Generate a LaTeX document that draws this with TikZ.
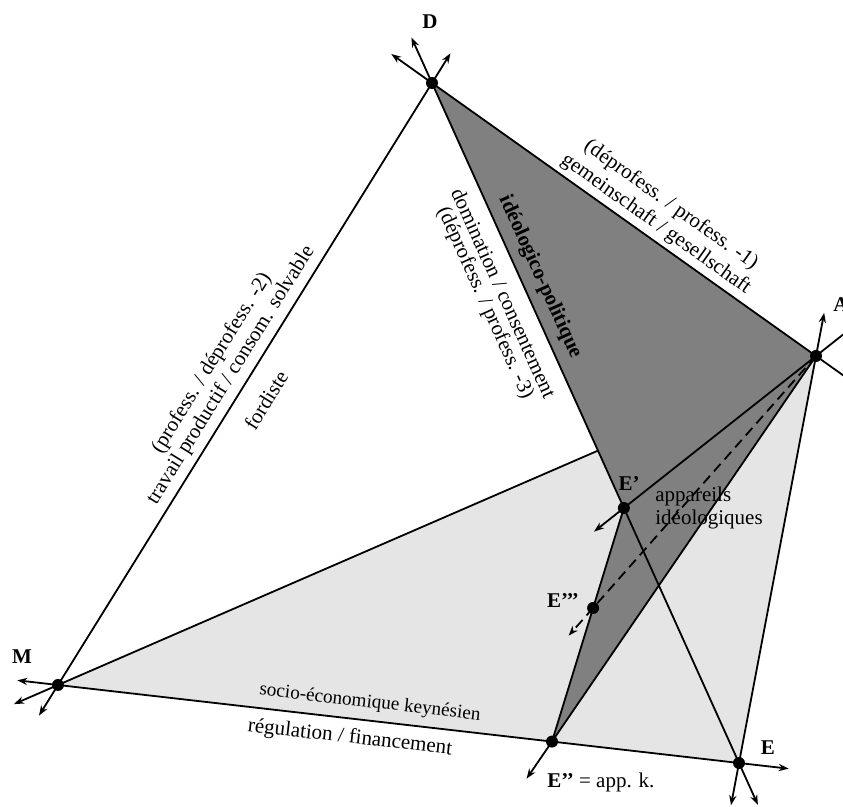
\documentclass[tikz,border=0pt]{standalone}
\usepackage{fontspec}
\setmainfont{Liberation Serif}
\usetikzlibrary{calc,arrows.meta}
\begin{document}
\begin{tikzpicture}[x=0.5pt,y=-0.5pt,
  edge/.style={line width=0.9pt},
  arr/.style={line width=0.9pt,-{Stealth[length=5pt,width=3.6pt]}},
  dasharr/.style={line width=0.9pt,dash pattern=on 5pt off 3pt,-{Stealth[length=5pt,width=3.6pt]}},
  dashline/.style={line width=0.9pt,dash pattern=on 5pt off 3pt},
  dot/.style={circle,fill=black,inner sep=0pt,minimum size=6pt},
  lbl/.style={font=\fontsize{10.5}{12}\selectfont, inner sep=0pt},
  vlbl/.style={font=\fontsize{10.5}{12}\selectfont\bfseries, inner sep=0pt},
  lightfill/.style={fill=black!10},
  darkfill/.style={fill=black!50}]
\useasboundingbox (0,0) rectangle (843,807);
\clip (0,0) rectangle (843,807);
% vertices
\coordinate (D) at (432,83);
\coordinate (A) at (816,356);
\coordinate (M) at (58,685);
\coordinate (E) at (739,763);
\coordinate (E2) at ($(M)!0.7254!(E)$);
\coordinate (E1) at ($(D)!0.625!(E)$);
\coordinate (E3) at ($(E2)!0.572!(E1)$);
% regions
\fill[lightfill] (M) -- (A) -- (E) -- cycle;
\draw[edge] (M) -- (A);
\fill[darkfill] (D) -- (A) -- (E2) -- (E1) -- cycle;
% edges
\draw[edge] (M) -- (D);
\draw[edge] (D) -- (A);
\draw[edge] (D) -- (E);
\draw[edge] (A) -- (E);
\draw[edge] (M) -- (E);
\draw[edge] (A) -- (E1);
\draw[edge] (A) -- (E2);
\draw[edge] (E2) -- (E1);
\draw[dashline] (A) -- (E3);
% arrow tips
\coordinate (tD1) at ($(D)!-25pt!(E)$);
\coordinate (tD2) at ($(D)!-25pt!(A)$);
\coordinate (tD3) at ($(D)!-17.5pt!(M)$);
\coordinate (tA1) at ($(A)!-22pt!(E)$);
\coordinate (tA2) at ($(A)!-40pt!(D)$);
\coordinate (tA3) at ($(A)!-40pt!(E1)$);
\coordinate (tM1) at ($(M)!-20.5pt!(E)$);
\coordinate (tM2) at ($(M)!-24pt!(A)$);
\coordinate (tM3) at ($(M)!-18pt!(D)$);
\coordinate (tE1) at ($(E)!-25pt!(M)$);
\coordinate (tE2) at ($(E)!-21.5pt!(A)$);
\coordinate (tE3) at ($(E)!-23pt!(D)$);
\coordinate (tF1) at ($(E2)!-22.5pt!(A)$);
\coordinate (tG1) at ($(E1)!-19pt!(A)$);
\coordinate (tH1) at ($(E3)!-18.5pt!(A)$);
\draw[arr] (D) -- (tD1);
\draw[arr] (D) -- (tD2);
\draw[arr] (D) -- (tD3);
\draw[arr] (A) -- (tA1);
\draw[edge] (A) -- (tA2);
\draw[edge] (A) -- (tA3);
\draw[arr] (M) -- (tM1);
\draw[arr] (M) -- (tM2);
\draw[arr] (M) -- (tM3);
\draw[arr] (E) -- (tE1);
\draw[arr] (E) -- (tE2);
\draw[arr] (E) -- (tE3);
\draw[arr] (E2) -- (tF1);
\draw[arr] (E1) -- (tG1);
\draw[dasharr] (E3) -- (tH1);
% dots
\node[dot] (nD) at (D) {};
\node[dot] (nA) at (A) {};
\node[dot] (nM) at (M) {};
\node[dot] (nE) at (E) {};
\node[dot] (nE1) at (E1) {};
\node[dot] (nE2) at (E2) {};
\node[dot] (nE3) at (E3) {};
% vertex labels
\node[vlbl] (lD) at (430,22) {D};
\node[vlbl] (lA) at (841,305) {A};
\node[vlbl] (lM) at (22,657) {M};
\node[vlbl] (lE) at (768,748) {E};
\node[vlbl] (lE1) at (629,484) {E’};
\node[vlbl] (lE3) at (563,601) {E’’’};
\node[lbl,anchor=base west] (lE2) at (547,788) {\textbf{E’’} = app. k.};
\node[lbl,anchor=base west] (app1) at (655,502) {appareils};
\node[lbl,anchor=base west] (app2) at (655,525) {idéologiques};
% M-D labels
\node[lbl,rotate=58.15] (md1) at (212,363) {(profess. / déprofess. -2)};
\node[lbl,rotate=58.15] (md2) at (231,375) {travail productif / consom. solvable};
\node[lbl,rotate=58.15] (md3) at (266,400) {fordiste};
% D-A labels
\node[lbl,rotate=-35.41] (da1) at (671,205) {(déprofess. / profess. -1)};
\node[lbl,rotate=-35.41] (da2) at (656,224) {gemeinschaft / gesellschaft};
% D-E labels
\node[lbl,rotate=-65.70,font=\fontsize{10.5}{12}\selectfont\bfseries] (de1) at (540,277) {idéologico-politique};
\node[lbl,rotate=-65.70] (de2) at (504,293) {domination / consentement};
\node[lbl,rotate=-65.70] (de3) at (485,303) {(déprofess. / profess. -3)};
% M-E labels
\node[lbl,rotate=-6.53,font=\fontsize{9.6}{12}\selectfont] (me1) at (370,703) {socio-économique keynésien};
\node[lbl,rotate=-6.53] (me2) at (350,738) {régulation / financement};
\end{tikzpicture}
\end{document}
